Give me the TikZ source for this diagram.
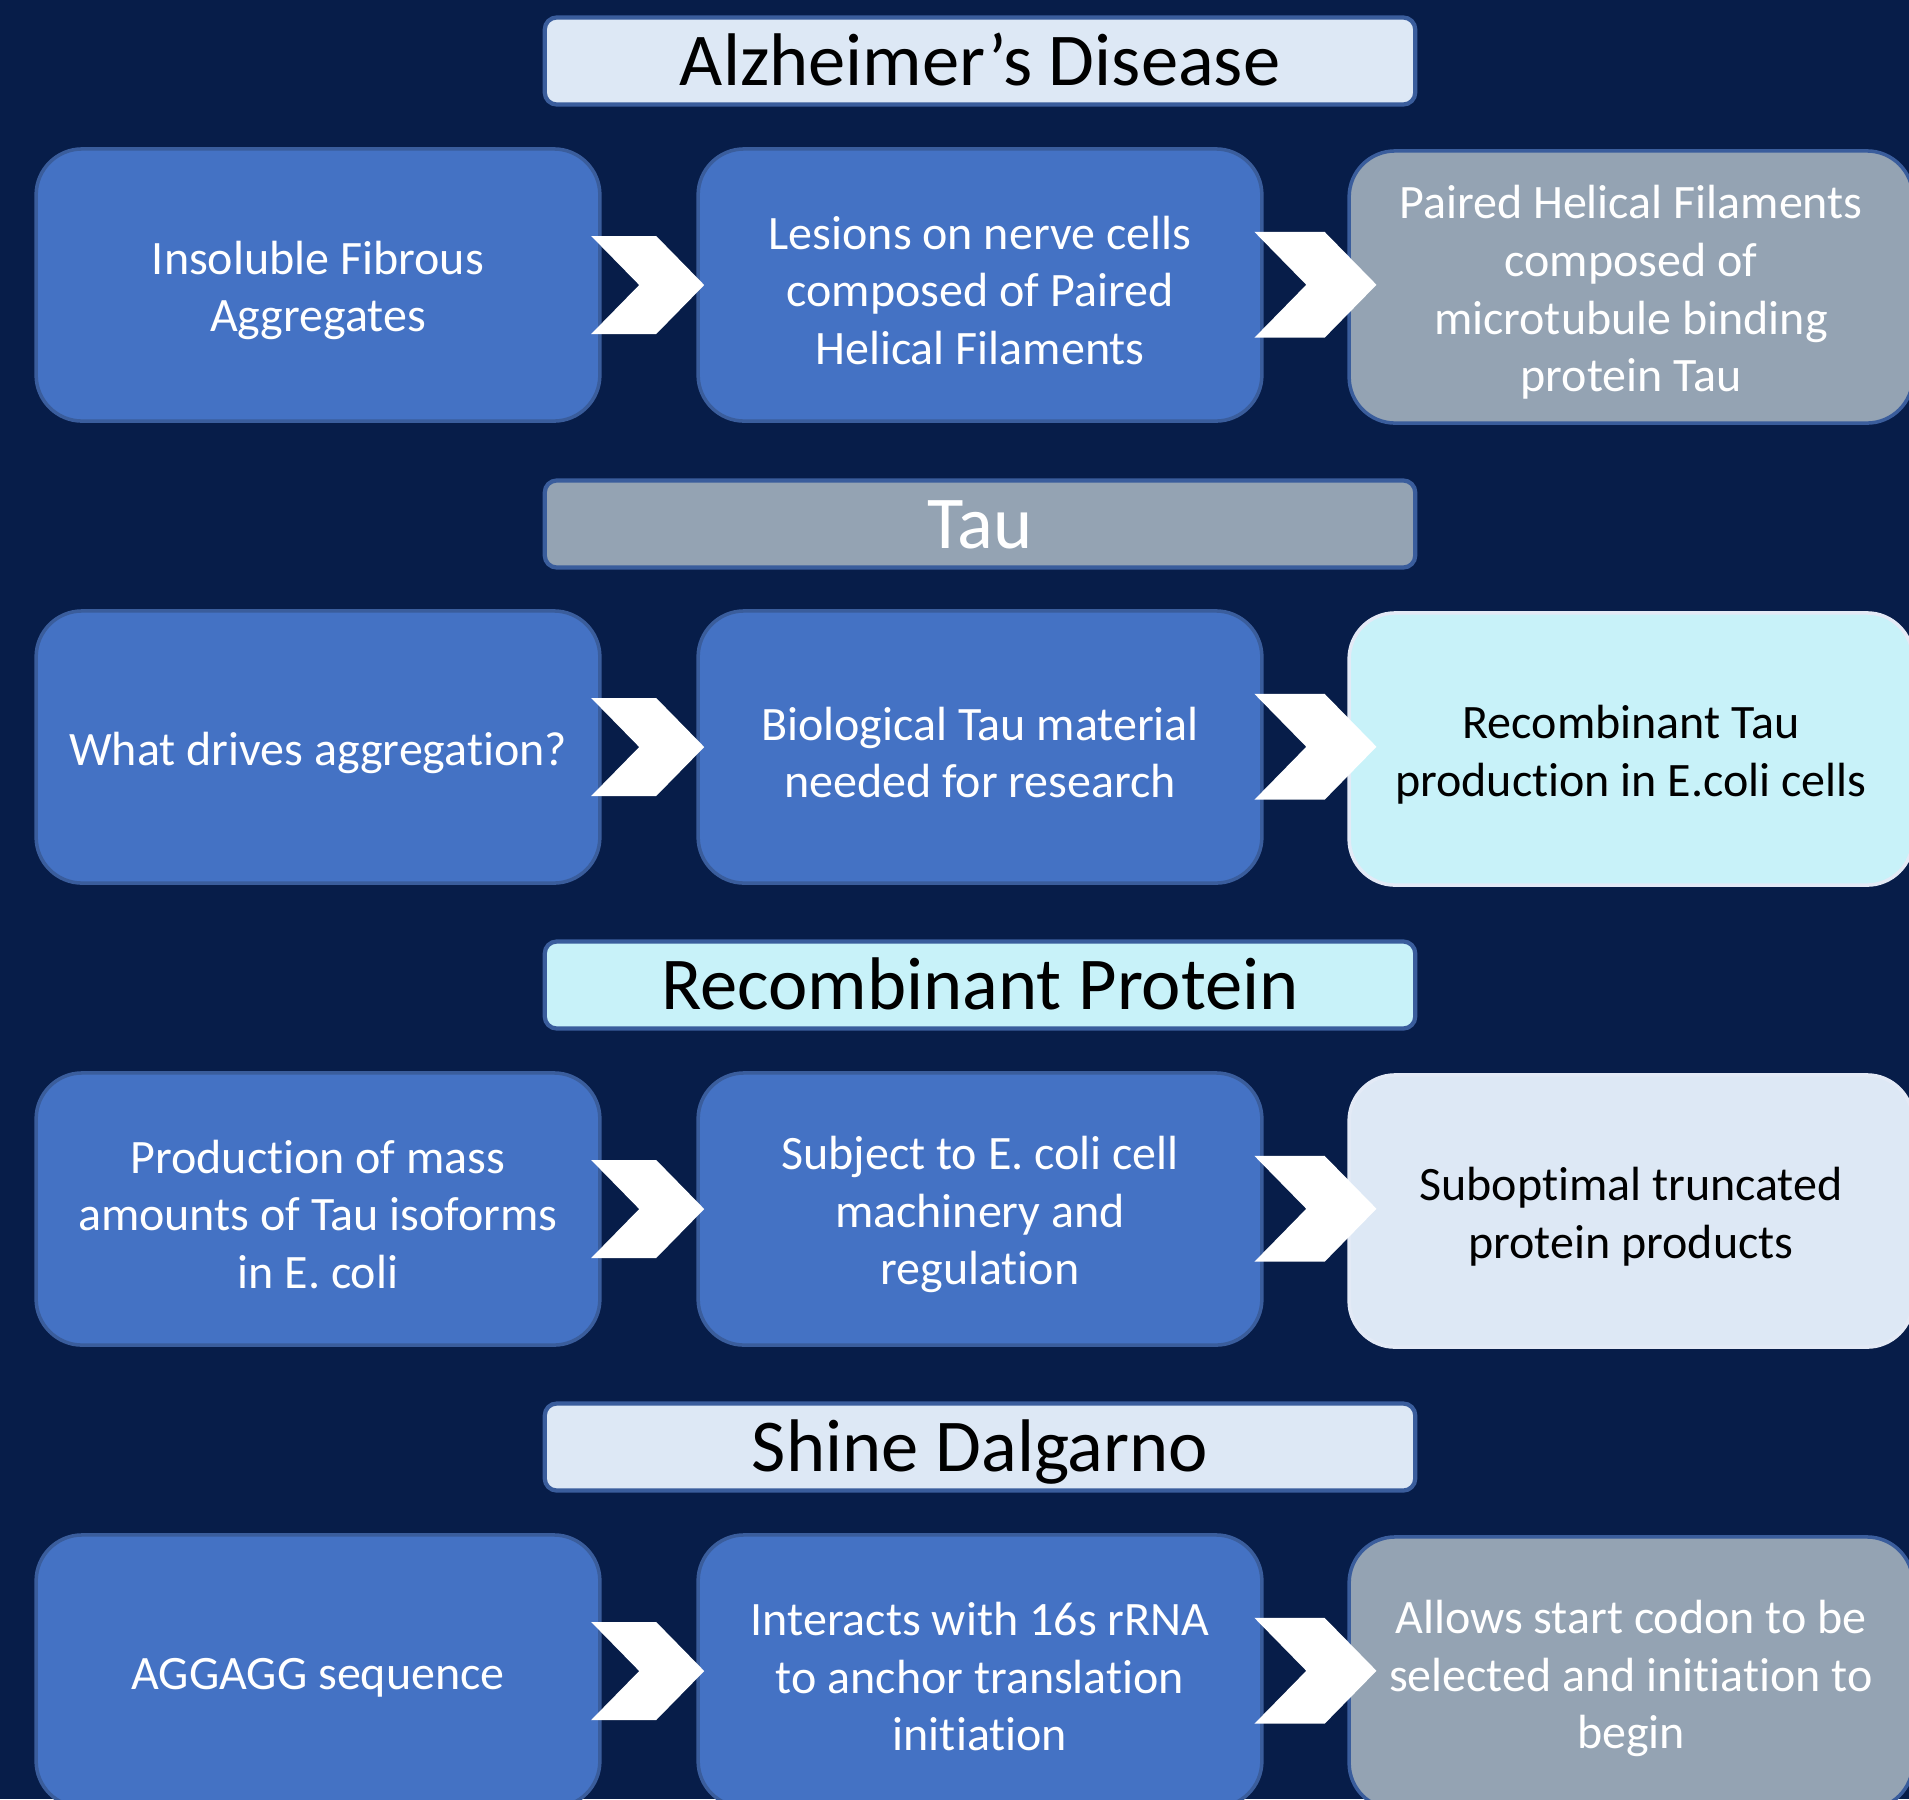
\documentclass[tikz,border=0pt]{standalone}
\usepackage{fontspec}
\setmainfont[Ligatures=CommonOff]{Carlito}
\usetikzlibrary{calc}

\definecolor{navy}{HTML}{071D49}
\definecolor{boxblue}{HTML}{4472C4}
\definecolor{boxedge}{HTML}{3A5D9C}
\definecolor{boxgray}{HTML}{94A3B3}
\definecolor{boxcyan}{HTML}{C8F2F9}
\definecolor{boxlight}{HTML}{DDE8F5}

% white chevron from box #2 over to box #3, #1 = size
\newcommand{\stepchev}[3][1]{%
  \coordinate (m) at ($(#2.east)!-0.11!(#3.west)$);
  \fill[white, shift={(m)}, scale=#1] (0,-49) -- (65,-49) -- (113,0) -- (65,49)
    -- (0,49) -- (48,0) -- cycle;}

\begin{document}
\begin{tikzpicture}[x=0.01cm, y=-0.01cm,
    stepbox/.style={rounded corners=0.46cm, minimum width=5.62cm, minimum height=2.72cm,
      text width=5.4cm, align=flush center, line width=1pt,
      font=\fontsize{13.65pt}{16.4pt}\selectfont\rule{0pt}{12.6pt}},
    bluebox/.style={stepbox, fill=boxblue, draw=boxedge, text=white},
    graybox/.style={stepbox, fill=boxgray, draw=boxedge, text=white},
    palebox/.style={stepbox, draw=white!85!boxblue, text=black},
    head/.style={rounded corners=0.12cm, minimum width=8.7cm, minimum height=0.87cm,
      draw=boxedge, line width=1.2pt, font=\fontsize{21.2pt}{24pt}\selectfont,
      inner ysep=0pt, text height=18.6pt, text depth=4.6pt}]
  \clip (0,0) rectangle (1909,1799);
  \fill[navy] (0,0) rectangle (1909,1799);

  % Alzheimer's
  \node[head, fill=boxlight] (hAD) at (980,61) {Alzheimer’s Disease};
  \node[bluebox] (ad1) at (318,285) {Insoluble Fibrous\\Aggregates};
  \node[bluebox] (ad2) at (980,285) {Lesions on nerve cells\\composed of Paired\\Helical Filaments};
  \node[graybox] (ad3) at (1631,287) {Paired Helical Filaments\\composed of\\microtubule binding\\protein Tau};

  % Tau
  \node[head, fill=boxgray, text=white] (hTau) at (980,524) {Tau};
  \node[bluebox] (tau1) at (318,747) {What drives aggregation?};
  \node[bluebox] (tau2) at (980,747) {Biological Tau material\\needed for research};
  \node[palebox, fill=boxcyan] (tau3) at (1631,749) {Recombinant Tau\\production in E.coli cells};

  % Recombinant protein
  \node[head, fill=boxcyan] (hRP) at (980,985) {Recombinant Protein};
  \node[bluebox] (rp1) at (318,1209) {Production of mass\\amounts of Tau isoforms\\in E. coli};
  \node[bluebox] (rp2) at (980,1209) {Subject to E. coli cell\\machinery and\\regulation};
  \node[palebox, fill=boxlight] (rp3) at (1631,1211) {Suboptimal truncated\\protein products};

  % Shine Dalgarno
  \node[head, fill=boxlight] (hSD) at (980,1447) {Shine Dalgarno};
  \node[bluebox] (sd1) at (318,1671) {AGGAGG sequence};
  \node[bluebox] (sd2) at (980,1671) {Interacts with 16s rRNA\\to anchor translation\\initiation};
  \node[graybox] (sd3) at (1631,1673) {Allows start codon to be\\selected and initiation to\\begin};

  \stepchev{ad1}{ad2}
  \stepchev[1.08]{ad2}{ad3}
  \stepchev{tau1}{tau2}
  \stepchev[1.08]{tau2}{tau3}
  \stepchev{rp1}{rp2}
  \stepchev[1.08]{rp2}{rp3}
  \stepchev{sd1}{sd2}
  \stepchev[1.08]{sd2}{sd3}
\end{tikzpicture}
\end{document}
